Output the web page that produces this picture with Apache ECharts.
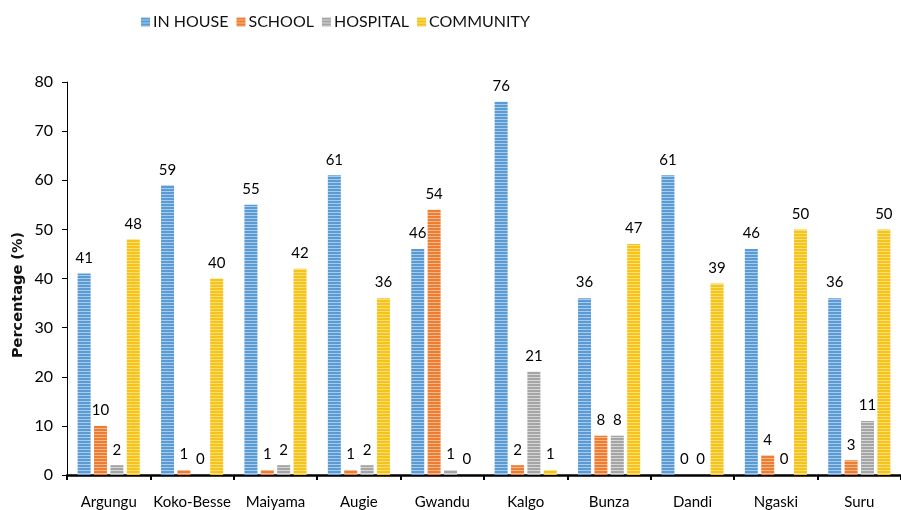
<!DOCTYPE html>
<html>
<head>
<meta charset="utf-8">
<style>
  html, body { margin: 0; padding: 0; background: #ffffff; }
  #chart { width: 901px; height: 510px; }
</style>
<script src="https://cdn.jsdelivr.net/npm/echarts@6/dist/echarts.min.js"></script>
</head>
<body>
<div id="chart"></div>
<script>
// Places of sanitation facility by local government area
const categories = ['Argungu', 'Koko-Besse', 'Maiyama', 'Augie', 'Gwandu', 'Kalgo', 'Bunza', 'Dandi', 'Ngaski', 'Suru'];
const inHouse   = [41, 59, 55, 61, 46, 76, 36, 61, 46, 36];
const school    = [10, 1, 1, 1, 54, 2, 8, 0, 4, 3];
const hospital  = [2, 0, 2, 2, 1, 21, 8, 0, 0, 11];
const community = [48, 40, 42, 36, 0, 1, 47, 39, 50, 50];
const seriesNames = ['IN HOUSE', 'SCHOOL', 'HOSPITAL', 'COMMUNITY'];
const yTicks = [0, 10, 20, 30, 40, 50, 60, 70, 80];
const yTitle = 'Percentage (%)';

const FONT = 'Lato, "Open Sans", sans-serif';

// Horizontal striped fill used by the bars
function stripes(base, light) {
  const c = document.createElement('canvas');
  c.width = 4; c.height = 3;
  const ctx = c.getContext('2d');
  ctx.fillStyle = base;
  ctx.fillRect(0, 0, 4, 3);
  ctx.fillStyle = light;
  ctx.fillRect(0, 2, 4, 1);
  return { image: c, repeat: 'repeat' };
}

const fills = [
  stripes('#5b9bd5', '#a9cbea'),
  stripes('#ed7d31', '#f5b88f'),
  stripes('#a5a5a5', '#d6d6d6'),
  stripes('#f7c219', '#fbe07a')
];

const values = [inHouse, school, hospital, community];

const chart = echarts.init(document.getElementById('chart'), null, { renderer: 'canvas' });

chart.setOption({
  animation: false,
  backgroundColor: '#ffffff',
  legend: {
    top: 9,
    left: 136,
    itemWidth: 9,
    itemHeight: 9,
    itemGap: 8,
    icon: 'rect',
    textStyle: { fontFamily: FONT, fontSize: 16, color: '#111', padding: [0, 0, 0, -2] },
    data: seriesNames
  },
  grid: { left: 67, top: 82, width: 841, height: 393 },
  graphic: [{
    type: 'text',
    x: 18,
    y: 295,
    rotation: Math.PI / 2,
    style: {
      text: yTitle,
      font: 'bold 14.5px "DejaVu Sans", sans-serif',
      fill: '#111',
      align: 'center',
      verticalAlign: 'middle'
    }
  }],
  xAxis: {
    type: 'category',
    data: categories,
    axisLine: { lineStyle: { color: '#000', width: 2.5 } },
    axisTick: { show: true, alignWithLabel: false, length: 5, lineStyle: { color: '#000', width: 2 } },
    axisLabel: { interval: 0, fontFamily: FONT, fontSize: 15, color: '#000', margin: 20 }
  },
  yAxis: {
    type: 'value',
    min: 0,
    max: 80,
    interval: 10,
    splitLine: { show: false },
    axisLine: { show: true, lineStyle: { color: '#000', width: 1 } },
    axisTick: { show: true, length: 5, lineStyle: { color: '#000' } },
    axisLabel: {
      fontFamily: FONT, fontSize: 16, color: '#000', margin: 14,
      formatter: function (v) { return yTicks.indexOf(v) >= 0 ? String(v) : ''; }
    }
  },
  series: seriesNames.map(function (name, i) {
    return {
      name: name,
      type: 'bar',
      data: values[i],
      barWidth: 13,
      barGap: '26%',
      itemStyle: { color: fills[i] },
      label: {
        show: true,
        position: 'top',
        distance: 8,
        fontFamily: FONT,
        fontSize: 15,
        color: '#000'
      }
    };
  })
});
</script>
</body>
</html>
